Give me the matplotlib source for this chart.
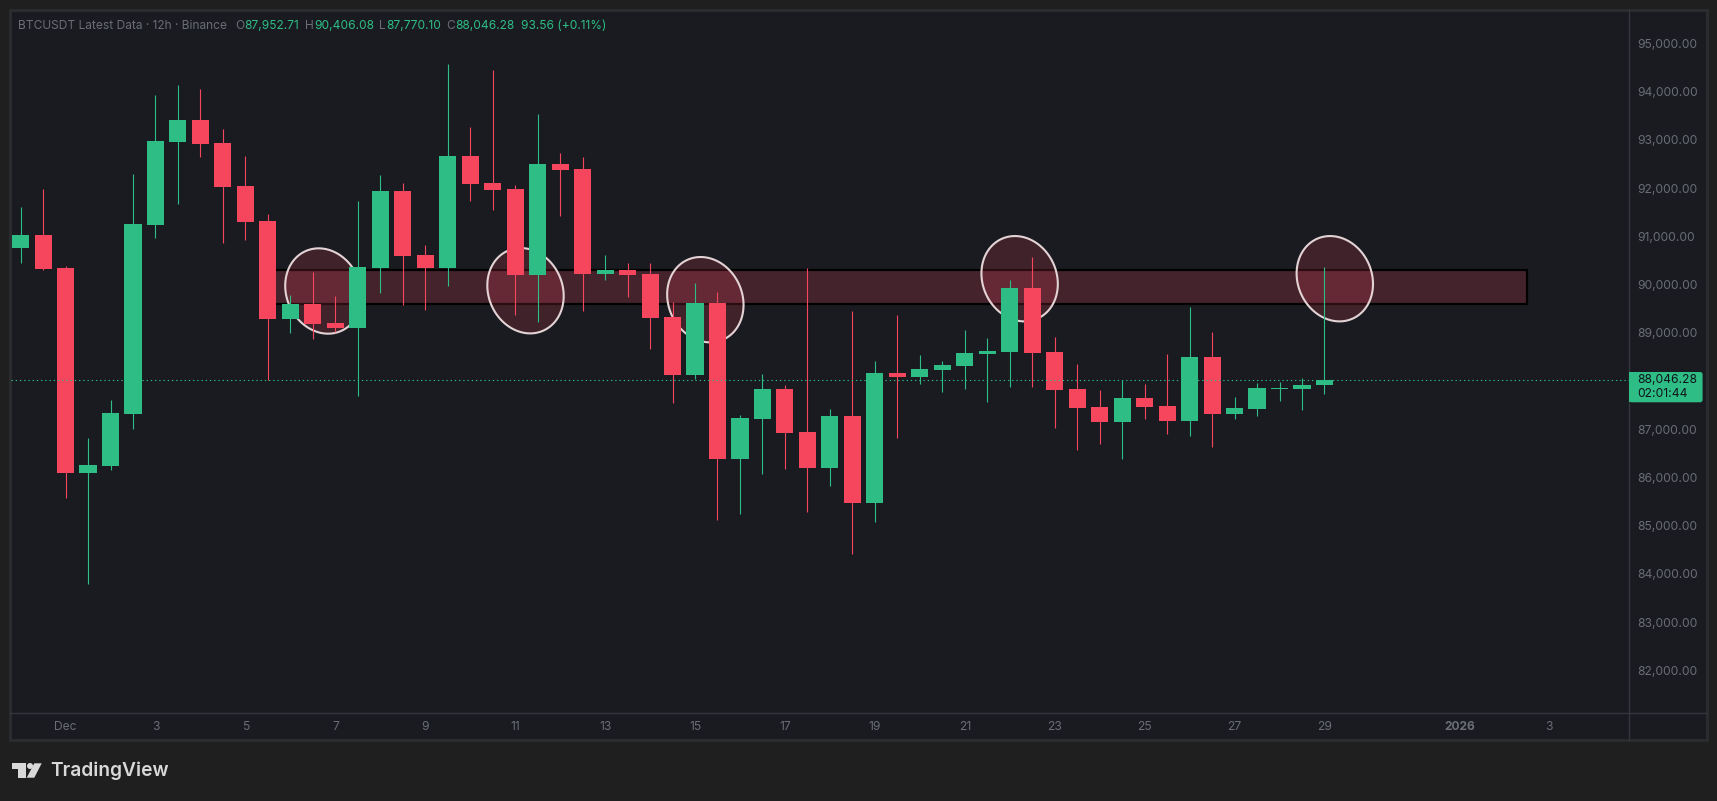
import numpy as np
import matplotlib

matplotlib.use('Agg')
import matplotlib.pyplot as plt
from matplotlib.patches import Rectangle, Circle, Polygon, FancyBboxPatch
from matplotlib.transforms import ScaledTranslation

# 12h candles, first one is Nov 30 00:00
opens = [90790, 91060, 90375, 86120, 86270, 87350, 91270, 92990, 93440, 92970,
         92075, 91350, 89315, 89630, 89235, 89130, 90375, 91970, 90645, 90375,
         92700, 92140, 92015, 90230, 92530, 92430, 90250, 90335, 90250, 89360,
         88155, 89650, 86415, 87245, 87865, 86975, 86225, 87305, 85500, 88195,
         88115, 88260, 88345, 88590, 88635, 89960, 88635, 87865, 87490, 87180,
         87680, 87515, 87200, 88530, 87345, 87450, 87865, 87865, 87952.71]
highs = [91640, 92010, 90420, 86850, 87640, 92325, 93960, 94170, 94090, 93260,
         92700, 91495, 89815, 90290, 89795, 91765, 92305, 92140, 90850, 94605,
         93300, 94480, 92095, 93570, 92760, 92675, 90645, 90480, 90480, 89670,
         90065, 89875, 87325, 88175, 87950, 90375, 87450, 89485, 88445, 89400,
         88570, 88445, 89090, 88925, 90125, 90605, 88945, 88385, 87845, 88050,
         87970, 88590, 89565, 89050, 87700, 87990, 88010, 88095, 90406.08]
lows = [90480, 90330, 85605, 83820, 86190, 87040, 91000, 91700, 92680, 90890,
        90955, 88050, 89030, 88900, 89050, 87720, 89855, 89610, 89505, 90000,
        91765, 91580, 89400, 89255, 91455, 89485, 90125, 89775, 88695, 87575,
        88075, 85150, 85275, 86105, 86205, 85315, 85855, 84445, 85105, 86850,
        87970, 87805, 87865, 87595, 87905, 87905, 87055, 86600, 86725, 86415,
        87245, 86930, 86890, 86665, 87245, 87305, 87615, 87430, 87770.10]
closes = [91060, 90350, 86120, 86290, 87370, 91290, 93010, 93440, 92950, 92055,
          91330, 89315, 89630, 89215, 89130, 90395, 91970, 90625, 90375, 92700,
          92115, 91995, 90230, 92530, 92405, 90250, 90335, 90230, 89340, 88155,
          89650, 86415, 87265, 87865, 86955, 86225, 87305, 85500, 88195, 88115,
          88280, 88365, 88610, 88655, 89960, 88610, 87845, 87470, 87180, 87680,
          87490, 87200, 88530, 87345, 87470, 87885, 87885, 87950, 88046.28]

last_price = 88046.28
zone_low, zone_high = 89630, 90334
zone_start, zone_end = 11, 67
circle_x = [13.47, 22.46, 30.46, 44.44, 58.46]
circle_y = [89898, 89904, 89718, 90153, 90153]

price_ticks = [82000, 83000, 84000, 85000, 86000, 87000, 89000, 90000, 91000,
               92000, 93000, 94000, 95000]
date_pos = [2, 6, 10, 14, 18, 22, 26, 30, 34, 38, 42, 46, 50, 54, 58, 64, 68]
date_labels = ['Dec', '3', '5', '7', '9', '11', '13', '15', '17', '19', '21',
               '23', '25', '27', '29', '2026', '3']

UP = '#2ebd85'
DOWN = '#f6465d'
OUTER = '#1f1f1f'
PANE = '#191b20'
BORDER = '#2c2d30'
SEP = '#33363c'
GREY = '#6a6d75'
W, H = 1717, 801
PX_X = 22.48   # px per candle
PX_Y = 20.74   # usd per px

fig = plt.figure(figsize=(W / 100, H / 100), dpi=100, facecolor=OUTER)


def pixel_axes(z):
    a = fig.add_axes([0, 0, 1, 1], zorder=z)
    a.set_xlim(0, W)
    a.set_ylim(H, 0)
    a.axis('off')
    return a


# pane frame behind the chart, tag/legend/logo in front of it
back = pixel_axes(0)
back.add_patch(Rectangle((10, 10), 1696.5, 730, fc=PANE, ec=BORDER, lw=2))
back.plot([10, 1706], [713.3, 713.3], color=SEP, lw=1)
back.plot([1629.3, 1629.3], [10, 740], color=SEP, lw=1)

ax = fig.add_axes([10.7 / W, (H - 713.3) / H, (1629.3 - 10.7) / W, 703.3 / H], zorder=1)
ax.patch.set_alpha(0)
ax.set_xlim(-0.44, 71.56)
ax.set_ylim(81140, 95726)
for s in ax.spines.values():
    s.set_visible(False)

x = np.arange(len(opens))
o, h, l, c = map(np.array, (opens, highs, lows, closes))
colors = [UP if b >= a else DOWN for a, b in zip(o, c)]

# resistance zone and the hand drawn circles sit below the candles
ax.add_patch(Rectangle((zone_start, zone_low), zone_end - zone_start, zone_high - zone_low,
                       fc='#f6465d33', ec='black', lw=1.6, zorder=1))
t = np.linspace(0, 2 * np.pi, 200)
rot = np.radians(24)
dx = 37 * np.cos(t) * np.cos(rot) - 43.7 * np.sin(t) * np.sin(rot)
dy = 37 * np.cos(t) * np.sin(rot) + 43.7 * np.sin(t) * np.cos(rot)
for cx, cy in zip(circle_x, circle_y):
    pts = np.column_stack((cx + dx / PX_X, cy + dy * PX_Y))
    ax.add_patch(Polygon(pts, closed=True, fc='#f6465d2e', ec='#e3d3d5', lw=1.5, zorder=2))

ax.vlines(x, l, h, colors=colors, lw=0.8, zorder=3)
ax.bar(x, np.abs(c - o), bottom=np.minimum(o, c), width=0.76, color=colors, lw=0, zorder=4)
ax.axhline(last_price, color=UP, lw=0.8, dashes=(1.2, 2.6), zorder=5)

ax.yaxis.tick_right()
ax.set_yticks(price_ticks)
ax.set_yticklabels([f'{v:,.2f}' for v in price_ticks], fontfamily='Inter', fontsize=8.7, color=GREY)
ax.set_xticks(date_pos)
ax.set_xticklabels(date_labels, fontfamily='Inter', fontsize=8.7, color=GREY)
ax.get_xticklabels()[15].set_fontweight('bold')
ax.tick_params(axis='y', length=0, pad=5.8)
ax.tick_params(axis='x', length=0, pad=5.5)
# price labels sit a little above their level
lift = ScaledTranslation(0, 0.015, fig.dpi_scale_trans)
for lab in ax.get_yticklabels():
    lab.set_transform(lab.get_transform() + lift)

front = pixel_axes(2)

# price tag on the axis, rounded on the right only
front.add_patch(FancyBboxPatch((1629.3, 372), 73.3, 30.3, boxstyle='round,pad=0,rounding_size=2.5', fc=UP, ec='none'))
front.add_patch(Rectangle((1629.3, 372), 20, 30.3, fc=UP, ec='none'))
front.text(1637.3, 380, '88,046.28', family='Inter', fontsize=8.7, color='#10141a', va='center')
front.text(1637.3, 393.7, '02:01:44', family='Inter', fontsize=8.7, color='#10141a', va='center')

# legend row
head_y = 25.7
head = [(18.3, 'BTCUSDT Latest Data · 12h · Binance', GREY), (235, 'O', GREY),
        (244.3, '87,952.71', UP), (305, 'H', GREY), (314, '90,406.08', UP),
        (379.3, 'L', GREY), (386, '87,770.10', UP), (446.7, 'C', GREY),
        (455.7, '88,046.28', UP), (520.7, '93.56 (+0.11%)', UP)]
for hx, txt, col in head:
    front.text(hx, head_y, txt, family='Inter', fontsize=8.6, color=col, va='center')

# logo
LOGO = '#d9d9d9'
front.add_patch(Polygon([(12, 763.3), (25.7, 763.3), (25.7, 777.7), (18.3, 777.7), (18.3, 769.3), (12, 769.3)],
                        fc=LOGO, ec='none'))
front.add_patch(Circle((30, 766), 3, fc=LOGO, ec='none'))
front.add_patch(Polygon([(34.3, 763.3), (41.7, 763.3), (34.3, 777.7), (26.7, 777.7)], fc=LOGO, ec='none'))
front.text(50, 771, 'TradingView', family='Inter', fontsize=13.8, fontweight='semibold', color=LOGO, va='center')

fig.savefig('out.png', dpi=100, facecolor=OUTER)
